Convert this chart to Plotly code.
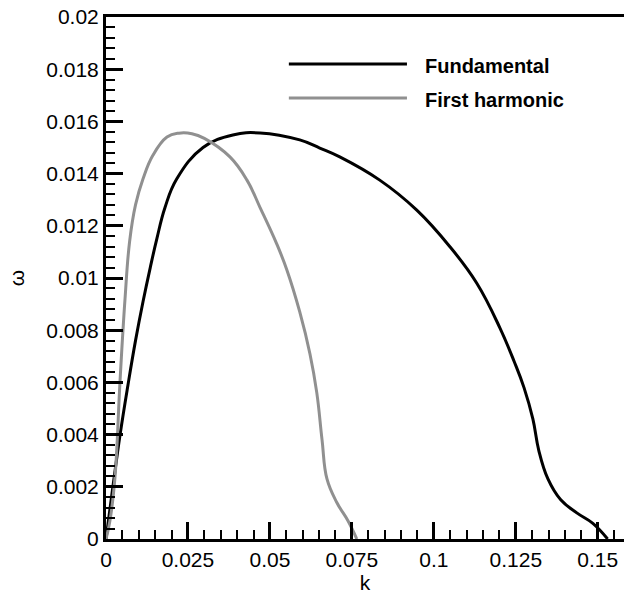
import plotly.graph_objects as go

# Fundamental mode
fund_k = [0, 0.0021, 0.0043, 0.0067, 0.0090, 0.0113, 0.0135, 0.0155, 0.0180, 0.0216,
          0.0296, 0.0387, 0.0470, 0.0591, 0.0652, 0.0713, 0.0835, 0.0948, 0.1049,
          0.1131, 0.1201, 0.1245, 0.1275, 0.1302, 0.1320, 0.1348, 0.1387, 0.1436,
          0.1485, 0.1530]
fund_w = [0, 0.0020, 0.0040, 0.0059, 0.0076, 0.0091, 0.0104, 0.0115, 0.0127, 0.0138,
          0.0150, 0.01548, 0.01556, 0.01529, 0.01498, 0.01464, 0.01375, 0.0126, 0.0112,
          0.0098, 0.0081, 0.0068, 0.0058, 0.0046, 0.0034, 0.0023, 0.0015, 0.0010,
          0.0006, 0.0]

# First harmonic
harm_k = [0, 0.0012, 0.0027, 0.0043, 0.0058, 0.0072, 0.0090, 0.0113, 0.0143, 0.0186,
          0.0222, 0.0262, 0.0300, 0.0378, 0.0430, 0.0470, 0.0521, 0.0552, 0.0591,
          0.0622, 0.0643, 0.0659, 0.0674, 0.0704, 0.0738, 0.0765]
harm_w = [0, 0.0007, 0.0023, 0.0061, 0.0092, 0.0114, 0.0128, 0.0138, 0.0147, 0.0154,
          0.01555, 0.01553, 0.01535, 0.01464, 0.01375, 0.0127, 0.0113, 0.0103, 0.0087,
          0.0071, 0.0056, 0.0038, 0.0023, 0.0014, 0.0007, 0.0]

series_names = ["Fundamental", "First harmonic"]
series_colors = ["#000000", "#909090"]

x_tickvals = [0, 0.025, 0.05, 0.075, 0.1, 0.125, 0.15]
x_ticktext = ["0", "0.025", "0.05", "0.075", "0.1", "0.125", "0.15"]
y_tickvals = [0, 0.002, 0.004, 0.006, 0.008, 0.01, 0.012, 0.014, 0.016, 0.018, 0.02]
y_ticktext = ["0", "0.002", "0.004", "0.006", "0.008", "0.01", "0.012", "0.014",
              "0.016", "0.018", "0.02"]

FONT = "Liberation Sans, Arial, sans-serif"

fig = go.Figure()
for kk, ww, name, col in [(fund_k, fund_w, series_names[0], series_colors[0]),
                          (harm_k, harm_w, series_names[1], series_colors[1])]:
    fig.add_trace(go.Scatter(x=kk, y=ww, mode="lines", name=name,
                             line=dict(color=col, width=3, shape="spline", smoothing=1.2),
                             showlegend=False))

# manual legend
leg_y = [0.910, 0.845]
for name, col, yy in zip(series_names, series_colors, leg_y):
    fig.add_shape(type="line", xref="paper", yref="paper", x0=0.353, x1=0.581,
                  y0=yy, y1=yy, line=dict(color=col, width=3))
    fig.add_annotation(xref="paper", yref="paper", x=0.612, y=yy - 0.004, text=name,
                       showarrow=False, xanchor="left", yanchor="middle",
                       font=dict(family=FONT, size=20, color="black", weight="bold"))

axis_common = dict(
    showgrid=False, zeroline=False, showline=True, linecolor="black", linewidth=3,
    ticks="inside", ticklen=17, tickwidth=3, tickcolor="black",
    tickfont=dict(family=FONT, size=21, color="black"),
)

fig.update_xaxes(range=[0, 0.158], tickmode="array", tickvals=x_tickvals,
                 ticktext=x_ticktext, mirror=True,
                 minor=dict(ticks="inside", ticklen=9, tickwidth=2, tickcolor="black",
                            dtick=0.005, tick0=0),
                 title=dict(text="k", font=dict(family=FONT, size=21, color="black"),
                            standoff=5),
                 **axis_common)
fig.update_yaxes(range=[0, 0.02], tickmode="array", tickvals=y_tickvals,
                 ticktext=y_ticktext,
                 minor=dict(ticks="inside", ticklen=9, tickwidth=2, tickcolor="black",
                            dtick=0.0004, tick0=0),
                 title=dict(text="ω", font=dict(family=FONT, size=21, color="black"),
                            standoff=16),
                 **axis_common)

fig.update_layout(width=624, height=599, margin=dict(l=106, r=0, t=17, b=60),
                  plot_bgcolor="white", paper_bgcolor="white")

fig.write_html("out.html")
